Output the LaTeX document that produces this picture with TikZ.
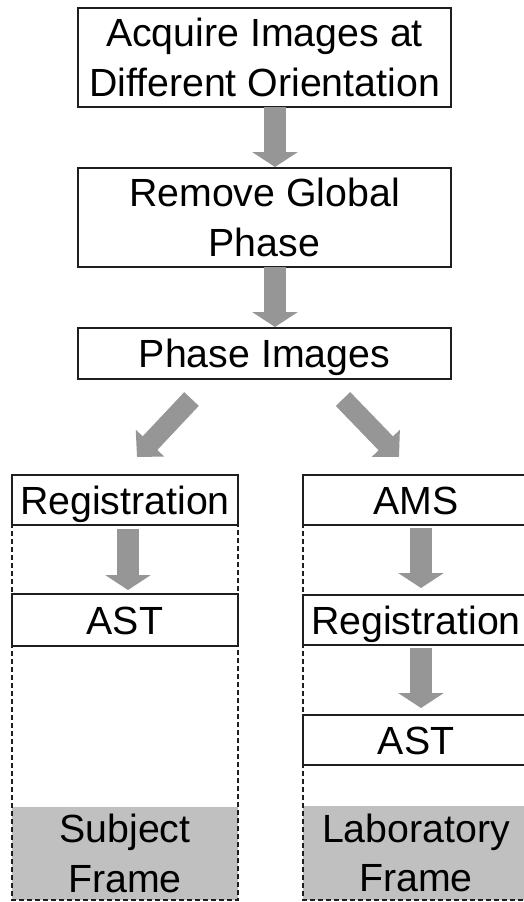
\documentclass[tikz,border=0pt]{standalone}
\usepackage{fontspec}
\setmainfont{Liberation Sans}
\usetikzlibrary{calc,arrows.meta}
\definecolor{arrowgray}{RGB}{150,150,150}
\definecolor{framegray}{RGB}{192,192,192}
\definecolor{linegray}{RGB}{30,30,30}
\begin{document}
\begin{tikzpicture}[x=1pt,y=-1pt,
  every node/.style={inner sep=0pt, outer sep=0pt},
  bigfont/.style={font=\fontsize{39.3}{49.5}\selectfont},
  stepbox/.style={draw=linegray, line width=2pt, fill=white, bigfont, align=center,
                  text height=28pt, text depth=0pt, minimum width=226pt, minimum height=50pt},
  widebox/.style={stepbox, minimum width=373pt},
  twoline/.style={text height=77.5pt, text depth=0pt, minimum height=99pt},
  framebox/.style={fill=framegray, bigfont, align=center, text height=77.5pt,
                   text depth=0pt, minimum width=226pt},
  blockarrow/.style={draw=arrowgray, line width=22.5pt, -{Triangle[width=45pt,length=15pt]}},
  diagarrow/.style={draw=arrowgray, line width=20pt, -{Triangle[width=38pt,length=19pt]}},
  dashline/.style={draw=linegray, line width=1.5pt, dash pattern=on 5pt off 3pt}]
\useasboundingbox (0,0) rectangle (523,902);
\fill[white] (0,0) rectangle (523,902);

% main chain
\node[widebox, twoline] (acq) at (264.5,57.5) {Acquire Images at\\Different Orientation};
\node[widebox, twoline] (rem) at (264.5,217.5) {Remove Global\\Phase};
\node[widebox, minimum height=51pt] (pha) at (264.5,353.5) {Phase Images};

% left column (subject frame)
\node[framebox, minimum height=93pt] (subj) at (125,853.5) {Subject\\Frame};
\node[stepbox] (reg1) at (125,500) {Registration};
\node[stepbox, minimum height=52pt] (ast1) at (125,620) {AST};

% right column (laboratory frame)
\node[framebox, minimum height=94pt] (lab) at (416,853) {Laboratory\\Frame};
\node[stepbox] (ams) at (416,500) {AMS};
\node[stepbox] (reg2) at (416,620) {Registration};
\node[stepbox] (ast2) at (416,740) {AST};

% dashed frames
\draw[dashline] (reg1.north west) rectangle (subj.south east);
\draw[dashline] (ams.north west) rectangle (lab.south east);

% arrows
\draw[blockarrow] ($(acq.south)+(10.5,0)$) -- ($(rem.north)+(10.5,-1)$);
\draw[blockarrow] ($(rem.south)+(10.5,0)$) -- ($(pha.north)+(10.5,-1)$);
\draw[diagarrow] ($(pha.south)+(-73,20)$) -- ($(reg1.north)+(12,-18)$);
\draw[diagarrow] ($(pha.south)+(78.5,20)$) -- ($(ams.north)+(-17,-18)$);
\draw[blockarrow] ($(reg1.south)+(3,4)$) -- ($(ast1.north)+(3,-4)$);
\draw[blockarrow] ($(ams.south)+(5,3)$) -- ($(reg2.north)+(5,-7)$);
\draw[blockarrow] ($(reg2.south)+(5,3)$) -- ($(ast2.north)+(5,-7)$);
\end{tikzpicture}
\end{document}
